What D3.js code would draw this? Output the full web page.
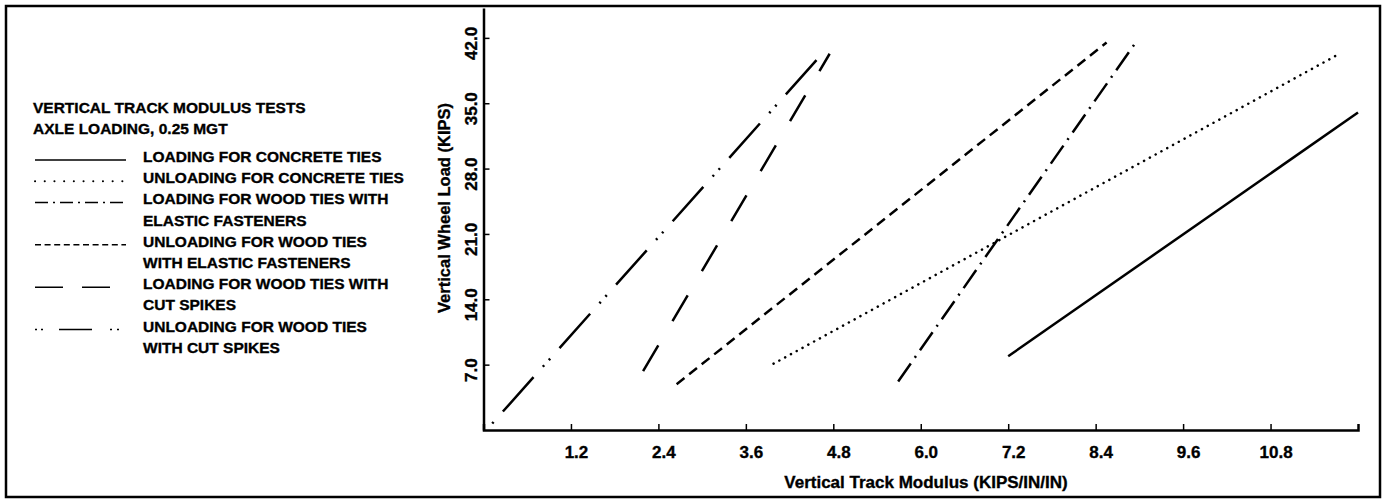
<!DOCTYPE html>
<html>
<head>
<meta charset="utf-8">
<script src="https://cdn.jsdelivr.net/npm/d3@7/dist/d3.min.js"></script>
<style>
  body { margin: 0; background: #fff; }
  text { font-family: "Liberation Sans", Arial, sans-serif; font-weight: bold; fill: #000;
         stroke: #000; stroke-width: 0.35px; }
</style>
</head>
<body>
<div id="chart"></div>
<script>
const legendTitle = ["VERTICAL TRACK MODULUS TESTS", "AXLE LOADING, 0.25 MGT"];
const seriesLabels = [
    ["LOADING FOR CONCRETE TIES"],
    ["UNLOADING FOR CONCRETE TIES"],
    ["LOADING FOR WOOD TIES WITH", "ELASTIC FASTENERS"],
    ["UNLOADING FOR WOOD TIES", "WITH ELASTIC FASTENERS"],
    ["LOADING FOR WOOD TIES WITH", "CUT SPIKES"],
    ["UNLOADING FOR WOOD TIES", "WITH CUT SPIKES"]
];

// [track modulus, wheel load] end points
const loadingConcrete = [[7.2, 7.9], [12.0, 34.0]];
const unloadingConcrete = [[3.98, 7.1], [11.7, 40.1]];
const loadingWoodElastic = [[5.69, 5.2], [8.94, 41.4]];
const unloadingWoodElastic = [[2.65, 4.9], [8.55, 41.5]];
const loadingWoodSpikes = [[2.19, 6.3], [4.75, 40.3]];
const unloadingWoodSpikes = [[0.12, 0.7], [4.67, 40.5]];

const xTicks = [1.2, 2.4, 3.6, 4.8, 6.0, 7.2, 8.4, 9.6, 10.8];
const yTicks = [7, 14, 21, 28, 35, 42];

const series = [loadingConcrete, unloadingConcrete, loadingWoodElastic,
    unloadingWoodElastic, loadingWoodSpikes, unloadingWoodSpikes];

// line styles: plot dash pattern, legend dash pattern
const styles = [
    {dash: null, cap: "butt", legDash: null},
    {dash: "0.1,6.5", cap: "round", legDash: "0.1,9.6"},
    {dash: "22,7,2,7", cap: "butt", legDash: "13,5,2,5"},
    {dash: "10,6", cap: "butt", legDash: "6,3.6"},
    {dash: "30,28", cap: "butt", legDash: "28,19"},
    {dash: "2,14,46,14,2,7", cap: "butt", legDash: "2,4,2,16,33,18,2,5,2,20"}
];

const W = 1384, H = 500;
const svg = d3.select("#chart")
    .append("svg")
    .attr("width", W)
    .attr("height", H);

// frame
svg.append("rect")
    .attr("x", 6).attr("y", 6)
    .attr("width", 1374).attr("height", 491)
    .attr("fill", "none")
    .attr("stroke", "#000")
    .attr("stroke-width", 2.5);

const x = d3.scaleLinear().domain([0, 12]).range([483.5, 1358]);
const y = d3.scaleLinear().domain([0, 45.2]).range([430, 8]);

const xAxis = svg.append("g")
    .attr("transform", "translate(0,430)")
    .call(d3.axisBottom(x)
        .tickValues(xTicks)
        .tickFormat(d3.format(".1f"))
        .tickSizeInner(-6)
        .tickSizeOuter(-6)
        .tickPadding(16));
xAxis.selectAll("text")
    .attr("dx", 5)
    .style("font-size", "17px");

const yAxis = svg.append("g")
    .attr("transform", "translate(483.5,0)")
    .call(d3.axisLeft(y)
        .tickValues(yTicks)
        .tickFormat(d3.format(".1f"))
        .tickSizeInner(-6)
        .tickSizeOuter(0));
yAxis.selectAll("text")
    .attr("x", 0)
    .attr("dy", 0)
    .attr("text-anchor", "middle")
    .attr("transform", "translate(-7,5) rotate(-90)")
    .style("font-size", "17px");

svg.selectAll(".domain").attr("stroke-width", 2.5);
svg.selectAll(".tick line").attr("stroke-width", 1.5);

svg.append("text")
    .attr("x", 926)
    .attr("y", 488)
    .attr("text-anchor", "middle")
    .style("font-size", "17px")
    .text("Vertical Track Modulus (KIPS/IN/IN)");

svg.append("text")
    .attr("transform", "translate(450,208) rotate(-90)")
    .attr("text-anchor", "middle")
    .style("font-size", "16.5px")
    .text("Vertical Wheel Load (KIPS)");

const line = d3.line()
    .x(function (d) { return x(d[0]); })
    .y(function (d) { return y(d[1]); });

svg.selectAll(".series")
    .data(series)
    .enter()
    .append("path")
    .attr("class", "series")
    .attr("fill", "none")
    .attr("stroke", "#000")
    .attr("stroke-width", 2.5)
    .attr("stroke-linecap", function (d, i) { return styles[i].cap; })
    .attr("stroke-dasharray", function (d, i) { return styles[i].dash; })
    .attr("d", line);

// legend
const legend = svg.append("g");
legend.selectAll(".ltitle")
    .data(legendTitle)
    .enter()
    .append("text")
    .attr("x", 33)
    .attr("y", function (d, i) { return 113 + i * 21; })
    .style("font-size", "15.5px")
    .text(function (d) { return d; });

let row = 0;
seriesLabels.forEach(function (lines, i) {
    const base = 162 + row * 21.2;
    legend.append("line")
        .attr("x1", 35).attr("x2", 126)
        .attr("y1", base - 2).attr("y2", base - 2)
        .attr("stroke", "#000")
        .attr("stroke-width", i === 1 ? 2 : 1.5)
        .attr("stroke-linecap", styles[i].cap)
        .attr("stroke-dasharray", styles[i].legDash);
    lines.forEach(function (t, j) {
        legend.append("text")
            .attr("x", 143)
            .attr("y", base + j * 21.2)
            .style("font-size", "15.5px")
            .text(t);
    });
    row += lines.length;
});
</script>
</body>
</html>
